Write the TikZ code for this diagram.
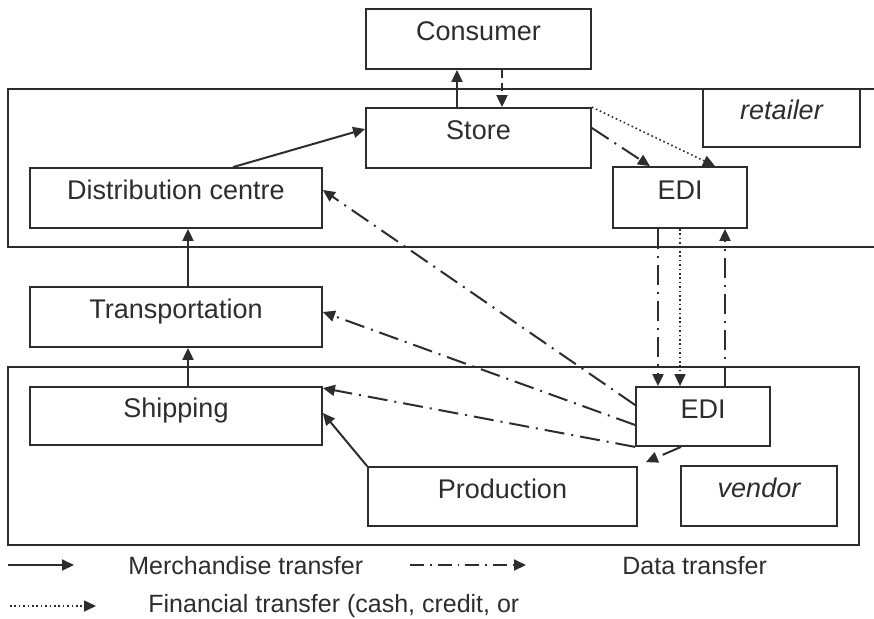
\documentclass[tikz,border=0pt]{standalone}
\usepackage{fontspec}
\setmainfont{Liberation Sans}
\usetikzlibrary{arrows.meta}
\definecolor{ink}{RGB}{45,45,45}
\def\tip{{Triangle[length=6pt,width=5.5pt]}}

\begin{document}
\begin{tikzpicture}[x=0.5pt,y=-0.5pt,
    box/.style={draw=ink, line width=0.9pt, inner sep=0pt, text=ink,
        text height=9.5pt, text depth=8pt,
        font=\fontsize{13.5}{16}\selectfont},
    merch/.style={draw=ink, line width=1pt, -\tip},
    datatr/.style={draw=ink, line width=1pt, -\tip,
        dash pattern=on 10pt off 3.5pt on 1pt off 3.5pt},
    money/.style={draw=ink, line width=0.8pt, -\tip,
        dash pattern=on 0.8pt off 1.4pt},
    cashdash/.style={draw=ink, line width=1pt, -\tip,
        dash pattern=on 4pt off 2.5pt},
    legtext/.style={text=ink, inner sep=0pt, anchor=west,
        font=\fontsize{12.5}{15}\selectfont}]
    \useasboundingbox (0,0) rectangle (874,618);
    % frames
    \draw[ink, line width=0.9pt] (874,89) -- (8,89) -- (8,247) -- (874,247);
    \draw[ink, line width=0.9pt] (8,367) rectangle (859,545);
    % boxes
    \node[box, minimum width=112.5pt, minimum height=30pt] (cons) at (478.5,39) {Consumer};
    \node[box, minimum width=112.5pt, minimum height=30pt] (store) at (478.5,138) {Store};
    \node[box, minimum width=78.5pt, minimum height=29pt] (ret) at (781.5,118) {\itshape retailer};
    \node[box, minimum width=67pt, minimum height=30.5pt] (edir) at (680,197.5) {EDI};
    \node[box, minimum width=146pt, minimum height=30pt] (dist) at (176,198) {Distribution centre};
    \node[box, minimum width=146pt, minimum height=30pt] (trans) at (176,317) {Transportation};
    \node[box, minimum width=146pt, minimum height=29pt] (ship) at (176,416) {Shipping};
    \node[box, minimum width=67pt, minimum height=29.5pt] (edv) at (703,416.5) {EDI};
    \node[box, minimum width=134.5pt, minimum height=29.5pt] (prod) at (502.5,496.5) {Production};
    \node[box, minimum width=78pt, minimum height=30pt] (vend) at (759,496) {\itshape vendor};
    % merchandise
    \draw[merch] ([xshift=-10.75pt]store.north) -- ([xshift=-10.75pt]cons.south);
    \draw[merch] ([xshift=28.5pt]dist.north) -- ([yshift=4.5pt]store.west);
    \draw[merch] ([xshift=6pt]trans.north) -- ([xshift=6pt]dist.south);
    \draw[merch] ([xshift=6pt]ship.north) -- ([xshift=6pt]trans.south);
    \draw[merch] (prod.north west) -- ([yshift=1.5pt]ship.east);
    % financial
    \draw[cashdash] ([xshift=11.75pt]cons.south) -- ([xshift=11.75pt]store.north);
    \draw[money] (store.north east) -- ([xshift=17.5pt]edir.north);
    \draw[money] (edir.south) -- (edir.south |- edv.north);
    % data
    \draw[datatr] ([yshift=5pt]store.east) -- ([xshift=-15pt]edir.north);
    \draw[datatr] ([xshift=-11pt]edir.south) -- ([xshift=-11pt]edir.south |- edv.north);
    \draw[datatr] ([xshift=22.5pt]edir.south |- edv.north) -- ([xshift=22.5pt]edir.south);
    \draw[datatr] ([yshift=5.75pt]edv.west) -- ([yshift=4pt]dist.east);
    \draw[datatr] ([yshift=-4.25pt]edv.west) -- ([yshift=2.5pt]trans.east);
    \draw[datatr] (edv.south west) -- ([yshift=-1pt]ship.north east);
    \draw[datatr] ([xshift=-11pt]edv.south) -- ([xshift=4pt,yshift=2pt]prod.north east);
    % legend
    \coordinate (m1) at (8,565);   \coordinate (m2) at (74,565);
    \coordinate (d1) at (410,565); \coordinate (d2) at (526,565);
    \coordinate (f1) at (10,606);  \coordinate (f2) at (96,606);
    \draw[merch] (m1) -- (m2);
    \draw[datatr, dash pattern=on 7pt off 3pt on 0.8pt off 3pt] (d1) -- (d2);
    \draw[money] (f1) -- (f2);
    \node[legtext] (lm) at (128,566) {Merchandise transfer};
    \node[legtext] (ld) at (622,566) {Data transfer};
    \node[legtext] (lf) at (148,606) {Financial transfer (cash, credit, or};
\end{tikzpicture}
\end{document}
